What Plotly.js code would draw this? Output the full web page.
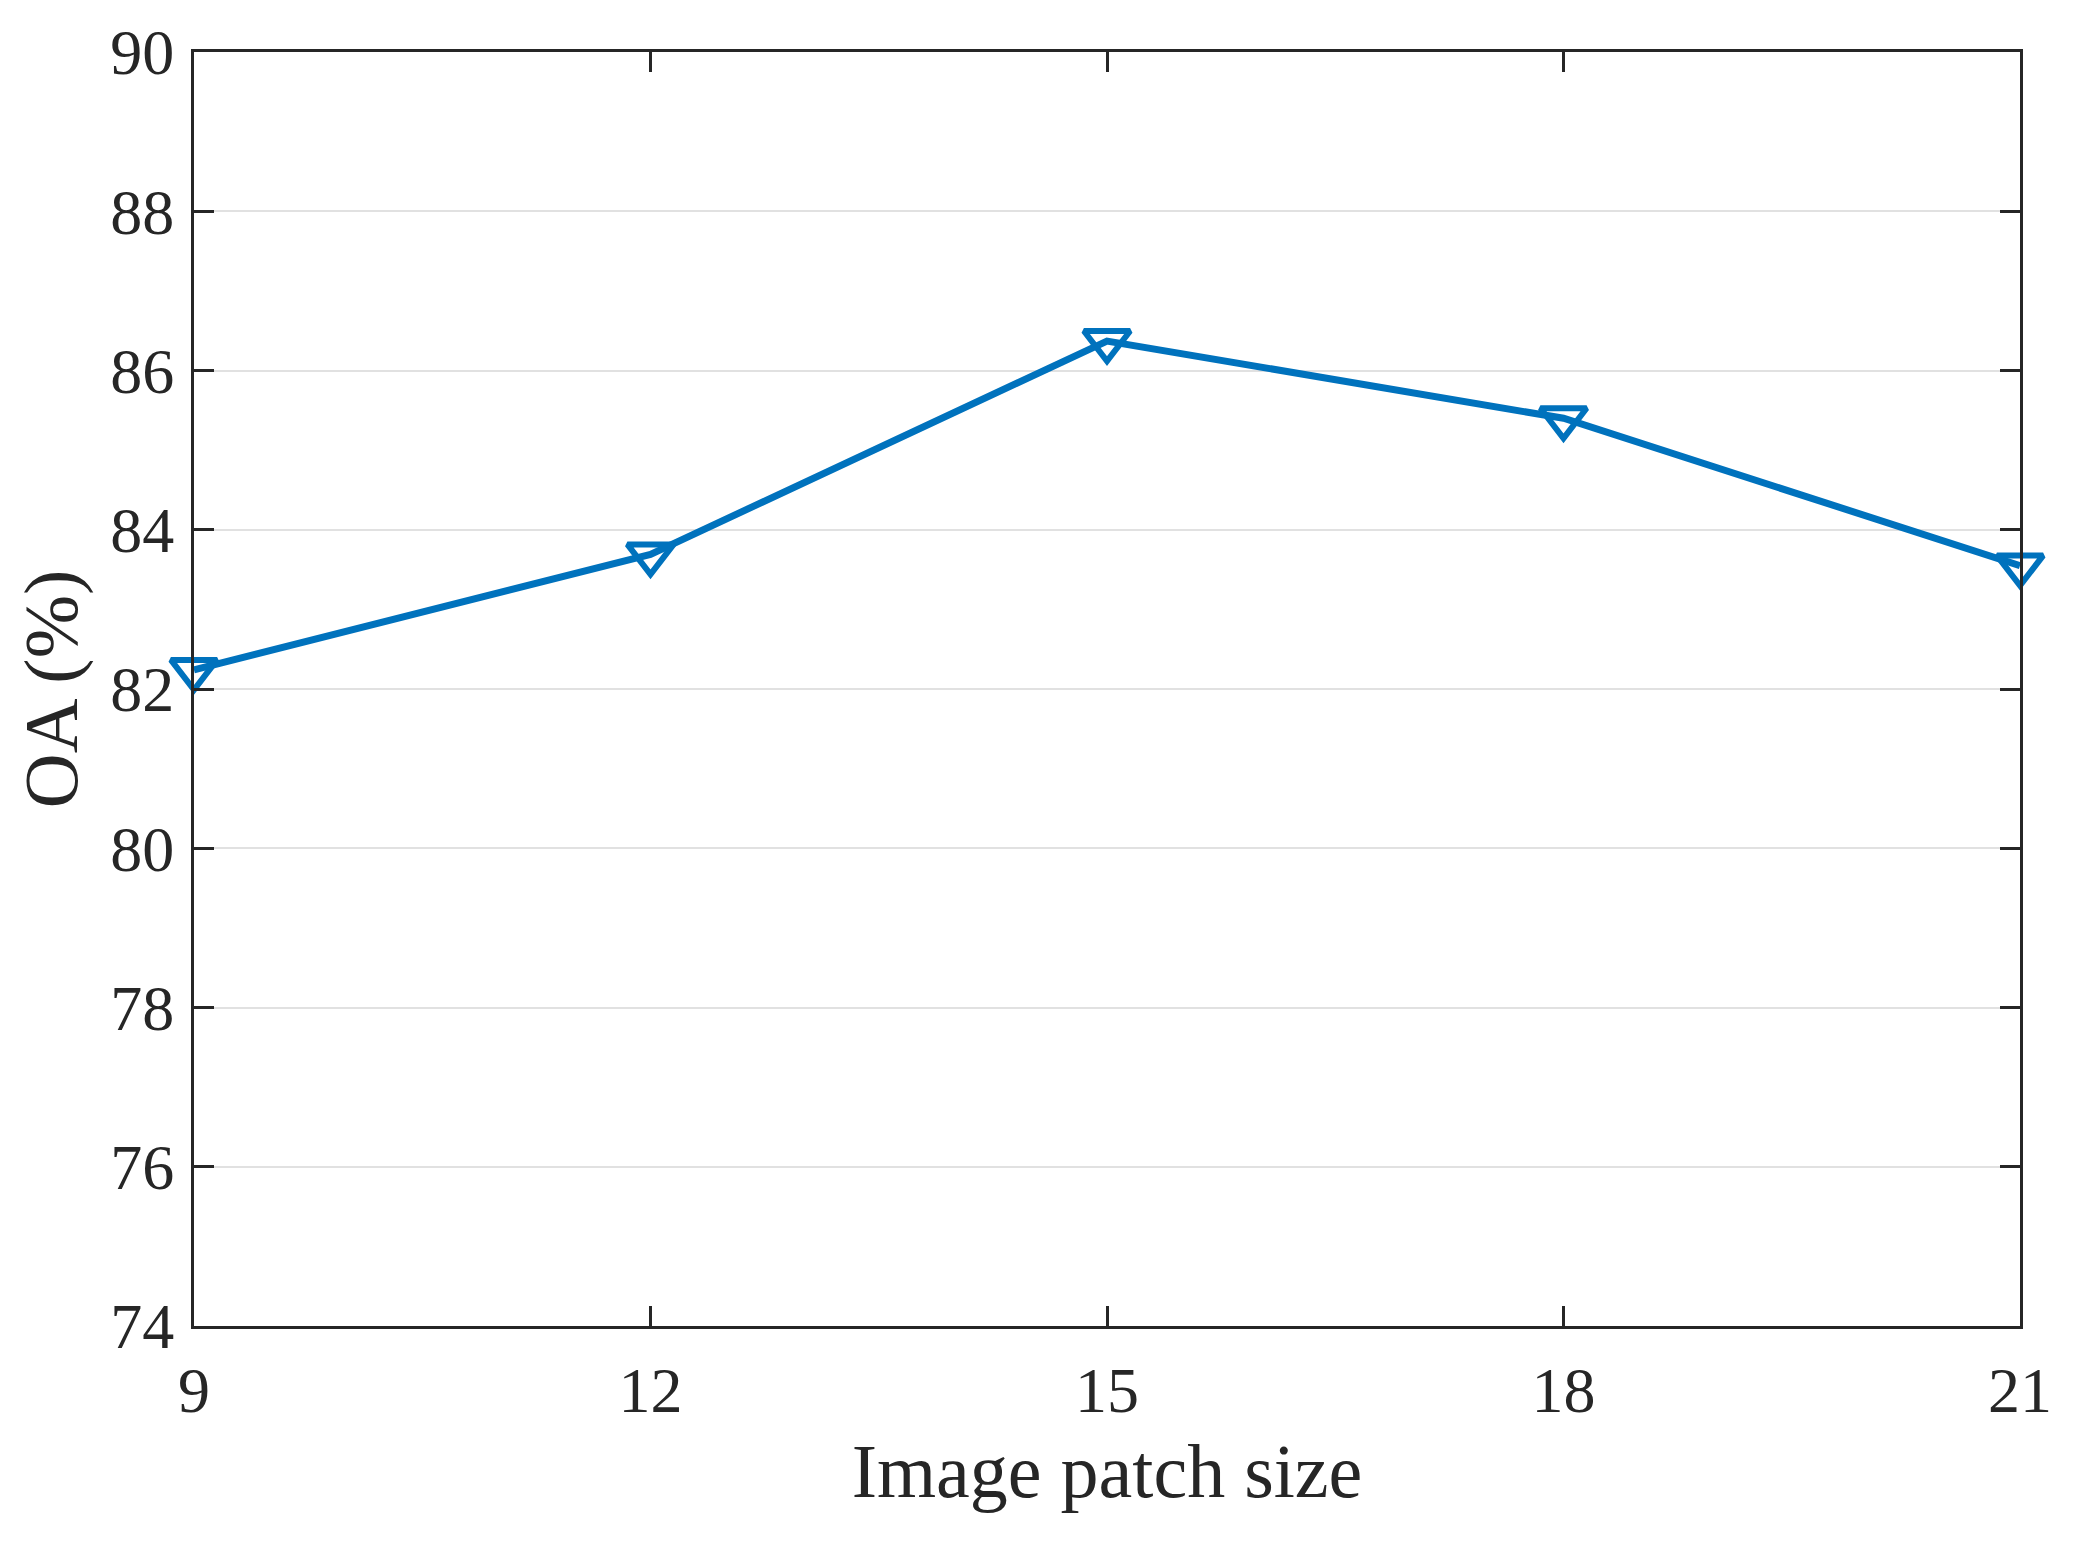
<!DOCTYPE html>
<html>
<head>
<meta charset="utf-8">
<script src="https://cdn.plot.ly/plotly-3.0.1.min.js"></script>
<style>
  html, body { margin: 0; padding: 0; background: #fff; }
  #vis { width: 2087px; height: 1547px; }
</style>
</head>
<body>
<div id="vis"></div>
<script>
// patch sizes and overall accuracy
const patchSizes = [9, 12, 15, 18, 21];
const oaValues = [82.24, 83.69, 86.37, 85.40, 83.55];

const yTicks = [74, 76, 78, 80, 82, 84, 86, 88, 90];
const xTicks = [9, 12, 15, 18, 21];

const axisColor = '#262626';
const serif = '"Liberation Serif", "Times New Roman", serif';

const trace = {
  x: patchSizes,
  y: oaValues,
  type: 'scatter',
  mode: 'lines+markers',
  line: { color: '#0072BD', width: 7 },
  marker: {
    symbol: 'triangle-down-open',
    size: 40,
    color: '#0072BD',
    line: { color: '#0072BD', width: 6 },
  },
  showlegend: false,
  cliponaxis: false,
};

// shared axis look (MATLAB style box with inside ticks)
const baseAxis = {
  showline: true,
  linecolor: axisColor,
  linewidth: 3,
  mirror: 'ticks',
  ticks: 'inside',
  ticklen: 20,
  tickwidth: 3,
  tickcolor: axisColor,
  zeroline: false,
  tickfont: { family: serif, size: 64, color: axisColor },
};

const layout = {
  width: 2087,
  height: 1547,
  margin: { l: 194, r: 67, t: 52, b: 221 },
  paper_bgcolor: '#ffffff',
  plot_bgcolor: '#ffffff',
  xaxis: Object.assign({}, baseAxis, {
    range: [9, 21],
    tickvals: xTicks,
    showgrid: false,
    ticklabelstandoff: 6,
    title: { text: 'Image patch size', font: { family: serif, size: 76, color: axisColor }, standoff: 20 },
  }),
  yaxis: Object.assign({}, baseAxis, {
    range: [74, 90],
    tickvals: yTicks,
    showgrid: true,
    gridcolor: '#e1e1e1',
    gridwidth: 2,
    ticklabelstandoff: 4,
    title: { text: 'OA (%)', font: { family: serif, size: 76, color: axisColor }, standoff: 8 },
  }),
};

Plotly.newPlot('vis', [trace], layout, { staticPlot: true });
</script>
</body>
</html>
